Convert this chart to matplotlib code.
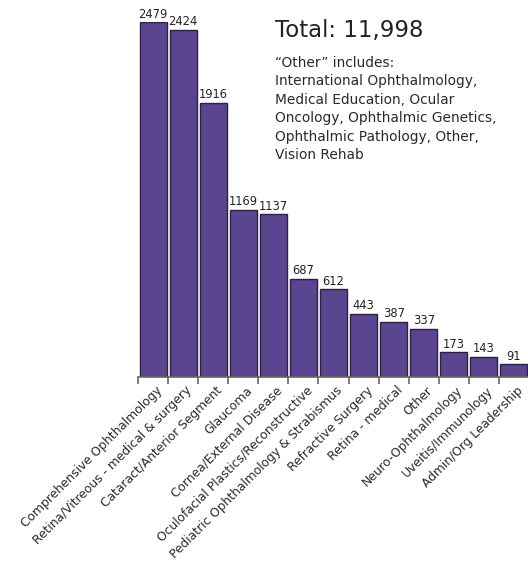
import matplotlib.pyplot as plt
import numpy as np

# Categories and counts
categories = ['Comprehensive Ophthalmology', 'Retina/Vitreous - medical & surgery',
              'Cataract/Anterior Segment', 'Glaucoma', 'Cornea/External Disease',
              'Oculofacial Plastics/Reconstructive', 'Pediatric Ophthalmology & Strabismus',
              'Refractive Surgery', 'Retina - medical', 'Other', 'Neuro-Ophthalmology',
              'Uveitis/Immunology', 'Admin/Org Leadership']
counts = [2479, 2424, 1916, 1169, 1137, 687, 612, 443, 387, 337, 173, 143, 91]

total_text = 'Total: 11,998'
note_text = ('\u201cOther\u201d includes:\nInternational Ophthalmology,\nMedical Education, Ocular\n'
             'Oncology, Ophthalmic Genetics,\nOphthalmic Pathology, Other,\nVision Rehab')

plt.rcParams['font.family'] = ['DejaVu Sans']

fig = plt.figure(figsize=(5.28, 5.61), dpi=100)
ax = fig.add_axes([138 / 528, 1 - 377 / 561, 391 / 528, 355 / 561])

x = np.arange(len(categories))
bars = ax.bar(x, counts, width=0.9, color='#5a4590', edgecolor='#2b2140', linewidth=1)

for xi, v in zip(x, counts):
    ax.text(xi, v + 10, str(v), ha='center', va='bottom', fontsize=8.3, color='#222222', clip_on=False)

ax.set_xlim(-0.5, 12.5)
ax.set_ylim(0, 2479)
ax.set_yticks([])
for s in ['top', 'right', 'left']:
    ax.spines[s].set_visible(False)
ax.spines['bottom'].set_color('#666666')
ax.spines['bottom'].set_linewidth(1.2)

ax.set_xticks(x + 0.08)
ax.set_xticklabels(categories, rotation=45, ha='right', rotation_mode='anchor', fontsize=8.8, color='#2a2a2a')
ax.tick_params(axis='x', which='major', length=0, pad=5)
ax.set_xticks(np.arange(-0.5, 12.6, 1), minor=True)
ax.tick_params(axis='x', which='minor', length=5, color='#666666', width=1.2)

fig.text(275 / 528, 1 - 30 / 561, total_text, fontsize=16.5, va='center', ha='left', color='#222222')
fig.text(275 / 528, 1 - 56 / 561, note_text, fontsize=9.9, va='top', ha='left', color='#2a2a2a', linespacing=1.4)

fig.savefig('out.png', dpi=100)
